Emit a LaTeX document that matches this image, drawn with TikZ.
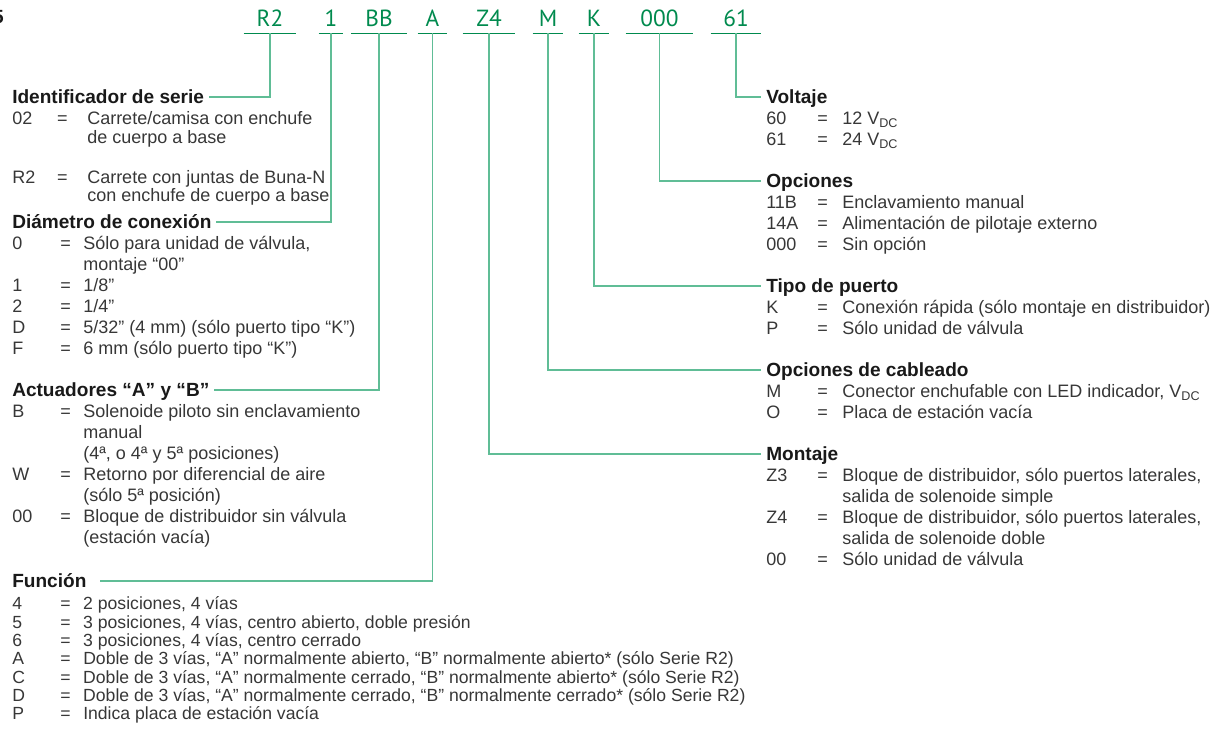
\documentclass[tikz,border=0pt]{standalone}
\usepackage{fontspec}
\setmainfont{Liberation Sans}
\newfontfamily\codefont{PT Sans}
\usetikzlibrary{positioning}
\definecolor{codegreen}{RGB}{0,138,78}
\definecolor{leadgreen}{RGB}{96,189,150}
\definecolor{inkgray}{RGB}{55,55,55}
\definecolor{headink}{RGB}{25,25,25}
\newcommand{\bodysize}{\fontsize{13.5pt}{15.75pt}\selectfont}
\newcommand{\snugsize}{\fontsize{13.5pt}{13.5pt}\selectfont}
\newcommand{\tightsize}{\fontsize{13.2pt}{13.5pt}\selectfont}
\newcommand{\headsize}{\fontsize{14.3pt}{16pt}\selectfont\bfseries}
\tikzset{code/.style={font=\codefont\fontsize{17.5pt}{19pt}\selectfont,text=codegreen,inner sep=0pt,text depth=4.5pt,anchor=base},rule/.style={draw=codegreen,line width=1.1pt},lead/.style={draw=leadgreen,line width=1.1pt,shorten >=3.5pt},head/.style={font=\headsize,text=headink,inner sep=0pt,text height=10pt,text depth=0pt,anchor=west},list/.style={font=\bodysize,text=inkgray,inner sep=0pt,anchor=base west}}

\begin{document}
\begin{tikzpicture}[x=0.75pt,y=-0.75pt]
\useasboundingbox (0,0) rectangle (1225,741);
\node[head,anchor=base east] (pg) at (4,24) {5};
\node[code,minimum width=39pt] (cR2) at (270,27) {R2};
\node[code,minimum width=18pt] (cdia) at (331,27) {1};
\node[code,minimum width=41.25pt] (cBB) at (379,27) {BB};
\node[code,minimum width=21.75pt] (cA) at (432.5,27) {A};
\node[code,minimum width=39pt] (cZ4) at (489,27) {Z4};
\node[code,minimum width=22.5pt] (cM) at (548,27) {M};
\node[code,minimum width=22.5pt] (cK) at (594,27) {K};
\node[code,minimum width=50.25pt] (copt) at (659.5,27) {000};
\node[code,minimum width=37.5pt] (cvolt) at (736,27) {61};
\foreach \c in {cR2,cdia,cBB,cA,cZ4,cM,cK,copt,cvolt}
  \draw[rule] (\c.south west) -- (\c.south east);
\node[head] (serieh) at (12,97) {Identificador de serie};
\node[list,font=\snugsize] (serie) at ([yshift=-15.75pt]serieh.base west) {\begin{tabular}[t]{@{}p{33.75pt}@{}p{22.5pt}@{}l@{}}
02 & = & Carrete/camisa con enchufe\\
 & & de cuerpo a base\\[16.5pt]
R2 & = & Carrete con juntas de Buna-N\\
 & & con enchufe de cuerpo a base
\end{tabular}};
\node[head] (diah) at (12,222) {Diámetro de conexión};
\node[list] (dia) at ([yshift=-15.75pt]diah.base west) {\begin{tabular}[t]{@{}p{36pt}@{}p{17.25pt}@{}l@{}}
0 & = & Sólo para unidad de válvula,\\
 & & montaje “00”\\
1 & = & 1/8"\\
2 & = & 1/4"\\
D & = & 5/32" (4 mm) (sólo puerto tipo “K”)\\
F & = & 6 mm (sólo puerto tipo “K”)
\end{tabular}};
\node[head] (acth) at (12,390) {Actuadores “A” y “B”};
\node[list] (act) at ([yshift=-15.75pt]acth.base west) {\begin{tabular}[t]{@{}p{36pt}@{}p{17.25pt}@{}l@{}}
B & = & Solenoide piloto sin enclavamiento\\
 & & manual\\
 & & (4ª, o 4ª y 5ª posiciones)\\
W & = & Retorno por diferencial de aire\\
 & & (sólo 5ª posición)\\
00 & = & Bloque de distribuidor sin válvula\\
 & & (estación vacía)
\end{tabular}};
\node[head] (funh) at (12,581) {Función};
\node[list,font=\tightsize] (fun) at ([yshift=-16.5pt]funh.base west) {\begin{tabular}[t]{@{}p{36pt}@{}p{17.25pt}@{}l@{}}
4 & = & 2 posiciones, 4 vías\\
5 & = & 3 posiciones, 4 vías, centro abierto, doble presión\\
6 & = & 3 posiciones, 4 vías, centro cerrado\\
A & = & Doble de 3 vías, “A” normalmente abierto, “B” normalmente abierto* (sólo Serie R2)\\
C & = & Doble de 3 vías, “A” normalmente cerrado, “B” normalmente abierto* (sólo Serie R2)\\
D & = & Doble de 3 vías, “A” normalmente cerrado, “B” normalmente cerrado* (sólo Serie R2)\\
P & = & Indica placa de estación vacía
\end{tabular}};
\node[head] (volth) at (766,97) {Voltaje};
\node[list] (volt) at ([yshift=-15.75pt]volth.base west) {\begin{tabular}[t]{@{}p{38.25pt}@{}p{18.75pt}@{}l@{}}
60 & = & 12 V\textsubscript{DC}\\
61 & = & 24 V\textsubscript{DC}
\end{tabular}};
\node[head] (opth) at (766,181) {Opciones};
\node[list] (opt) at ([yshift=-15.75pt]opth.base west) {\begin{tabular}[t]{@{}p{38.25pt}@{}p{18.75pt}@{}l@{}}
11B & = & Enclavamiento manual\\
14A & = & Alimentación de pilotaje externo\\
000 & = & Sin opción
\end{tabular}};
\node[head] (porth) at (766,286) {Tipo de puerto};
\node[list] (port) at ([yshift=-15.75pt]porth.base west) {\begin{tabular}[t]{@{}p{38.25pt}@{}p{18.75pt}@{}l@{}}
K & = & Conexión rápida (sólo montaje en distribuidor)\\
P & = & Sólo unidad de válvula
\end{tabular}};
\node[head] (wireh) at (766,370) {Opciones de cableado};
\node[list] (wire) at ([yshift=-15.75pt]wireh.base west) {\begin{tabular}[t]{@{}p{38.25pt}@{}p{18.75pt}@{}l@{}}
M & = & Conector enchufable con LED indicador, V\textsubscript{DC}\\
O & = & Placa de estación vacía
\end{tabular}};
\node[head] (mounth) at (766,454) {Montaje};
\node[list] (mount) at ([yshift=-15.75pt]mounth.base west) {\begin{tabular}[t]{@{}p{38.25pt}@{}p{18.75pt}@{}l@{}}
Z3 & = & Bloque de distribuidor, sólo puertos laterales,\\
 & & salida de solenoide simple\\
Z4 & = & Bloque de distribuidor, sólo puertos laterales,\\
 & & salida de solenoide doble\\
00 & = & Sólo unidad de válvula
\end{tabular}};
\draw[lead] (cR2.south) |- (serieh.east);
\draw[lead] (cdia.south) |- (diah.east);
\draw[lead] (cBB.south) |- (acth.east);
\draw[lead,shorten >=10pt] (cA.south) |- (funh.east);
\draw[lead] (cZ4.south) |- (mounth.west);
\draw[lead] (cM.south) |- (wireh.west);
\draw[lead] (cK.south) |- (porth.west);
\draw[lead] (copt.south) |- (opth.west);
\draw[lead] (cvolt.south) |- (volth.west);
\end{tikzpicture}
\end{document}
